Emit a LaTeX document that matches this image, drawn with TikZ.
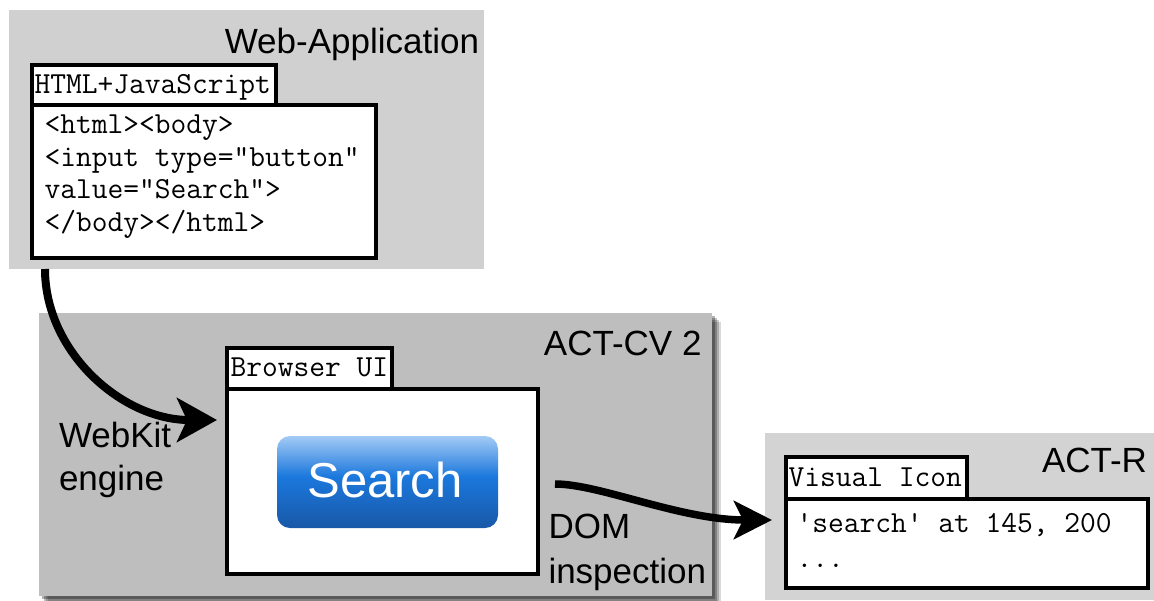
\documentclass[tikz,border=0pt]{standalone}
\usepackage{fontspec}
\setmainfont{Liberation Sans}
\usetikzlibrary{arrows.meta,fit,calc}
\definecolor{grpA}{HTML}{D0D0D0}
\definecolor{grpB}{HTML}{BEBEBE}
\definecolor{grpC}{HTML}{D3D3D3}
\definecolor{btnbot}{HTML}{1858A8}
\definecolor{btnmid}{HTML}{1B78DD}
\definecolor{btntop}{HTML}{A3CAF5}
\pgfdeclareverticalshading{btnshade}{100bp}{color(0bp)=(btnbot); color(25bp)=(btnbot); color(53bp)=(btnmid); color(75bp)=(btntop); color(100bp)=(btntop)}
\begin{document}
\begin{tikzpicture}[x=1pt,y=-1pt,
  box/.style={inner sep=0pt, outer sep=0pt},
  panel/.style={box, draw=black, line width=4pt, fill=white},
  lbl/.style={inner sep=0pt, outer sep=0pt, font=\fontsize{35}{42}\selectfont},
  mono/.style={inner sep=0pt, outer sep=0pt, font=\fontsize{30.6}{32.7}\selectfont\ttfamily},
  flow/.style={line width=8pt, draw=black}
]
\useasboundingbox (0,0) rectangle (1154,600);
\fill[white] (0,0) rectangle (1154,600);

% Web-Application
\node[box, fill=grpA, fit={(9,10) (484,269)}] (webapp) {};
\node[lbl, anchor=base east] (webapplbl) at (479,53) {Web-Application};
\node[panel, fit={(32,65) (276,105)}] (htmltab) {};
\node[mono, anchor=base west] (htmltablbl) at (34.5,93) {HTML+JavaScript};
\node[panel, fit={(32,105) (376,258)}] (codebox) {};
\node[mono, anchor=base west] (code) at (44.5,133.3) {\begin{tabular}[t]{@{}l@{}}<html><body>\\<input type="button"\\value="Search">\\</body></html>\end{tabular}};

% ACT-CV 2
\foreach \d/\o in {9/0.15, 7/0.2, 5/0.25, 3/0.3}
  \fill[black, opacity=\o] (39+\d,313+\d) rectangle (712+\d,596+\d);
\node[box, fill=grpB, fit={(39,313) (712,596)}] (actcv) {};
\node[lbl, anchor=base east] (actcvlbl) at (701.5,355) {ACT-CV 2};
\node[panel, fit={(227,348) (392,389)}] (browsertab) {};
\node[mono, anchor=base west] (browsertablbl) at (230.5,376) {Browser UI};
\node[panel, fit={(227,389) (538,574)}] (browserbox) {};
\node[box, rounded corners=13pt, shading=btnshade, fit={(277,436) (498,528)}] (searchbtn) {};
\node[inner sep=0pt, anchor=base, text=white, font=\fontsize{49}{58}\selectfont] (searchlbl) at (385,497) {Search};
\node[lbl, anchor=base west, font=\fontsize{35}{43}\selectfont] (webkitlbl) at (59,447) {\begin{tabular}[t]{@{}l@{}}WebKit\\engine\end{tabular}};
\node[lbl, anchor=base west, font=\fontsize{35}{45}\selectfont] (domlbl) at (548.5,538) {\begin{tabular}[t]{@{}l@{}}DOM\\inspection\end{tabular}};

% ACT-R
\node[box, fill=grpC, fit={(765,433) (1154,600)}] (actr) {};
\node[lbl, anchor=base east] (actrlbl) at (1147,472) {ACT-R};
\node[panel, fit={(786,457) (967,499)}] (visualtab) {};
\node[mono, anchor=base west] (visualtablbl) at (788.5,486) {Visual Icon};
\node[panel, fit={(786,499) (1148,588)}] (visualbox) {};
\node[mono, anchor=base west, font=\fontsize{30.6}{35}\selectfont\ttfamily] (visualtext) at (796.5,532) {\begin{tabular}[t]{@{}l@{}}'search' at 145, 200\\...\end{tabular}};

% connectors
\draw[flow, -{Stealth[length=40pt,width=44pt,inset=10pt]}] ([xshift=36pt]webapp.south west) .. controls +(0,83) and +(-95,0) .. ($(browserbox.north west)+(-10,31)$);
\draw[flow, line width=7.5pt, -{Stealth[length=38pt,width=38pt,inset=9pt]}] ($(browserbox.north east)+(17,95)$) .. controls +(45,0) and +(-92,0) .. ($(visualbox.north west)+(-14,21)$);
\end{tikzpicture}
\end{document}
